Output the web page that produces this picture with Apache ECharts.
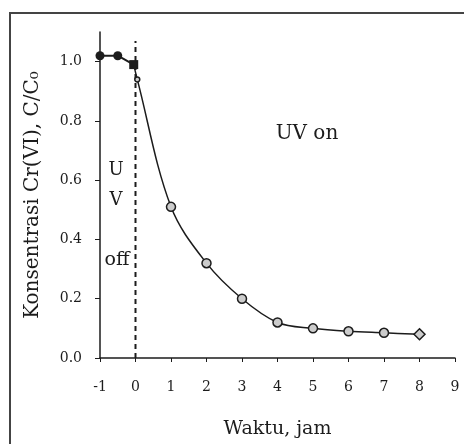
<!DOCTYPE html>
<html>
<head>
<meta charset="utf-8">
<script src="https://cdn.jsdelivr.net/npm/echarts@6/dist/echarts.min.js"></script>
<style>
  html, body { margin: 0; padding: 0; background: #fff; }
  #chart { width: 464px; height: 444px; }
</style>
</head>
<body>
<div id="chart"></div>
<script>
// data
const offX = [-1, -0.5, -0.05];
const offY = [1.02, 1.02, 0.99];
const onX = [-0.05, 0.05, 1, 2, 3, 4, 5, 6, 7, 8];
const onY = [0.99, 0.94, 0.51, 0.32, 0.20, 0.12, 0.10, 0.09, 0.085, 0.08];
const lampX = [0, 0];
const lampY = [0, 1.07];
const yTicks = [0, 0.2, 0.4, 0.6, 0.8, 1.0];

const font = 'DejaVu Serif';
const ink = '#1c1c1c';

const chart = echarts.init(document.getElementById('chart'));

const offData = offX.map((x, i) => ({
    value: [x, offY[i]],
    symbol: i === offX.length - 1 ? 'rect' : 'circle'
}));
const onData = onX.map((x, i) => {
    let d = { value: [x, onY[i]] };
    if (i === 0) d.symbol = 'none';
    if (i === 1) d.symbolSize = 5;
    if (i === onX.length - 1) { d.symbol = 'diamond'; d.symbolSize = 11; }
    return d;
});

const option = {
    animation: false,
    backgroundColor: '#fff',
    grid: { left: 100, right: 9, top: 32, bottom: 85 },
    xAxis: {
        type: 'value',
        min: -1, max: 9, interval: 1,
        name: 'Waktu, jam',
        nameLocation: 'middle',
        nameGap: 62,
        nameTextStyle: { fontFamily: font, fontSize: 19, color: ink },
        axisLine: { lineStyle: { color: ink, width: 1.5 } },
        axisTick: { inside: false, length: 4, lineStyle: { color: ink } },
        axisLabel: { fontFamily: font, fontSize: 14, color: ink, margin: 22 },
        splitLine: { show: false }
    },
    yAxis: {
        type: 'value',
        min: 0, max: 1.1,
        name: 'Konsentrasi Cr(VI), C/C₀',
        nameLocation: 'middle',
        nameGap: 57,
        nameTextStyle: { fontFamily: font, fontSize: 20, color: ink },
        axisLine: { show: true, onZero: false, lineStyle: { color: ink, width: 1.5 } },
        axisTick: { show: true, length: 5, customValues: yTicks, lineStyle: { color: ink } },
        axisLabel: {
            fontFamily: font, fontSize: 14, color: ink, margin: 18,
            customValues: yTicks,
            formatter: v => v.toFixed(1)
        },
        splitLine: { show: false }
    },
    graphic: [
        { type: 'rect', shape: { x: 10, y: 13, width: 470, height: 450 },
          style: { fill: 'none', stroke: '#444', lineWidth: 2 }, z: 10 },
        { type: 'text', x: 116, y: 170, style: { text: 'U', font: '18px "DejaVu Serif"', fill: ink, textAlign: 'center', textVerticalAlign: 'middle' } },
        { type: 'text', x: 116, y: 200, style: { text: 'V', font: '18px "DejaVu Serif"', fill: ink, textAlign: 'center', textVerticalAlign: 'middle' } },
        { type: 'text', x: 117, y: 260, style: { text: 'off', font: '19px "DejaVu Serif"', fill: ink, textAlign: 'center', textVerticalAlign: 'middle' } },
        { type: 'text', x: 307, y: 134, style: { text: 'UV on', font: '20px "DejaVu Serif"', fill: ink, textAlign: 'center', textVerticalAlign: 'middle' } }
    ],
    series: [
        {
            type: 'line',
            data: lampX.map((x, i) => [x, lampY[i]]),
            symbol: 'none',
            lineStyle: { color: ink, width: 2, type: [5, 4] },
            z: 1
        },
        {
            type: 'line',
            data: onData,
            smooth: 0.35,
            symbol: 'circle',
            symbolSize: 9,
            itemStyle: { color: '#ccc', borderColor: ink, borderWidth: 1.5 },
            lineStyle: { color: ink, width: 1.5 },
            z: 3
        },
        {
            type: 'line',
            data: offData,
            symbolSize: 9,
            itemStyle: { color: ink },
            lineStyle: { color: ink, width: 2 },
            z: 4
        }
    ]
};

chart.setOption(option);
</script>
</body>
</html>
